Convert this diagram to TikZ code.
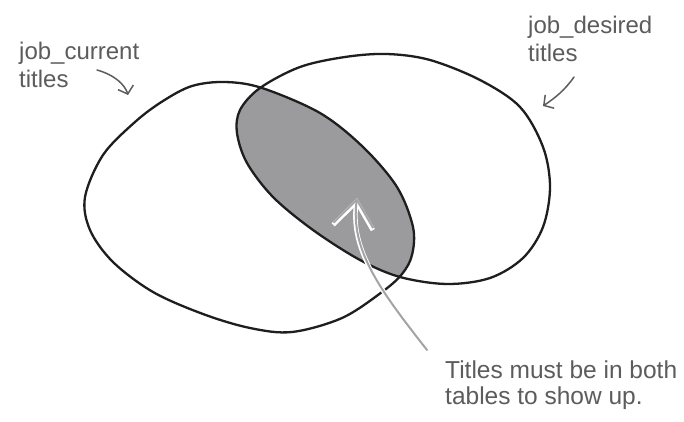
\documentclass[tikz,border=0pt]{standalone}
\usepackage{fontspec}
\setmainfont{Liberation Sans}
\usetikzlibrary{arrows.meta}
\definecolor{vnink}{HTML}{1E1E1E}
\definecolor{vnshade}{HTML}{9B9B9E}
\definecolor{vnpencil}{HTML}{5C5C5C}
\definecolor{vnpointer}{HTML}{A4A4A4}
\newcommand{\curblob}{%
  plot[smooth cycle,tension=0.55] coordinates {
    (85,197) (90,230) (113,262) (153,292) (203,314) (250,328) (292,332)
    (342,318) (382,292) (402,274) (412,255) (413,227) (397,187) (363,147)
    (320,113) (262,88) (225,82) (192,86) (163,101) (135,122) (103,155)}}
\newcommand{\desblob}{%
  plot[smooth cycle,tension=0.55] coordinates {
    (237,133) (247,163) (273,197) (313,230) (360,260) (400,277) (447,284)
    (490,278) (523,258) (543,227) (550,187) (543,147) (520,107) (480,80)
    (430,60) (387,54) (345,57) (300,67) (260,88) (240,110)}}

\begin{document}
\begin{tikzpicture}[x=1pt,y=-1pt,line cap=round,line join=round,
  blob/.style={draw=vnink,line width=2.3pt},
  note/.style={font=\fontsize{24}{28}\selectfont,text=vnpencil,
    align=left,anchor=base west,inner sep=0pt},
  hint/.style={draw=vnpencil,line width=1.5pt,
    -{Straight Barb[length=7pt,width=16pt]}},
  pointer/.style={draw=vnpointer,line width=2pt,
    -{Straight Barb[length=26pt,width=40pt]}},
  halo/.style={draw=white,line width=4.5pt,
    -{Straight Barb[length=26pt,width=40pt]}}]
\useasboundingbox (0,0) rectangle (684,422);
\fill[white] (0,0) rectangle (684,422);

% Overlap of the two tables.
\begin{scope}
  \clip \curblob;
  \fill[vnshade] \desblob;
\end{scope}
\draw[blob] \curblob;
\draw[blob] \desblob;

% Labels (base is the last line).
\node[note] (curlbl) at (19,88) {job\_current\\titles};
\node[note] (deslbl) at (528,62) {job\_desired\\titles};
\node[note,font=\fontsize{24.5}{26}\selectfont] (bothlbl) at (445,404)
  {Titles must be in both\\tables to show up.};

\coordinate (curtail) at (97,70);
\coordinate (curtip) at (128,95);
\draw[hint] (curtail) .. controls (115,75) and (125,85) .. (curtip);
\coordinate (destail) at (574,77);
\coordinate (destip) at (543,106);
\draw[hint] (destail) .. controls (565,90) and (555,98) .. (destip);

% Pointer into the overlap.
\coordinate (bothtail) at (427,350);
\coordinate (bothtip) at (357,198);
\draw[halo] (bothtail) .. controls (380,290) and (350,250) .. (bothtip);
\draw[pointer] (bothtail) .. controls (380,290) and (350,250) .. (bothtip);

\end{tikzpicture}
\end{document}
